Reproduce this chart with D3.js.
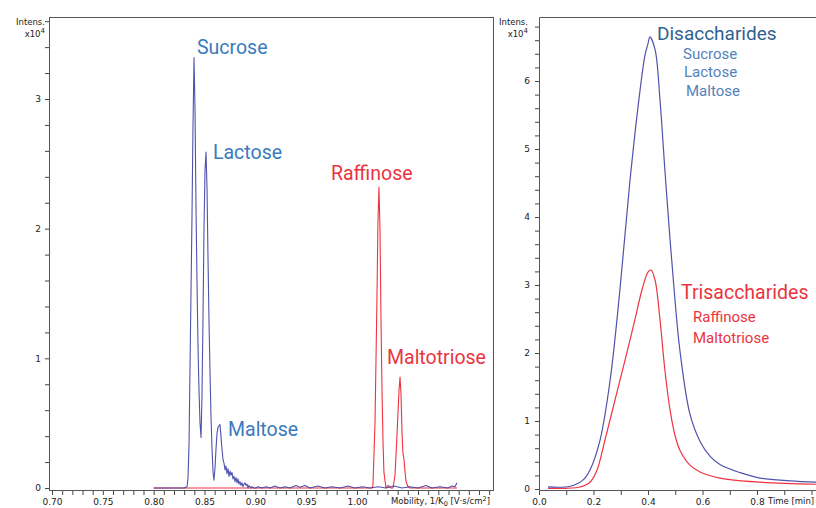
<!DOCTYPE html>
<html><head><meta charset="utf-8">
<script src="https://cdn.jsdelivr.net/npm/d3@7"></script>
<style>body{margin:0;background:#fff}svg{display:block}</style>
</head><body>
<svg id="c" width="816" height="508"></svg>
<script>
// ---- Left panel: mobilogram (mobility 1/K0, intensity x10^4)
const blueMobility = [0.800,0.830,0.8328,0.8338,0.8348,0.8357,0.8367,0.8377,0.8387,0.8397,0.8407,0.8416,0.8426,0.8436,0.8446,0.8456,0.8466,0.8475,0.8485,0.8495,0.8505,0.8515,0.8525,0.8534,0.8544,0.8554,0.8564,0.8574,0.8584,0.8593,0.8603,0.8613,0.8623,0.8633,0.8643,0.8652,0.8662,0.8672,0.8682,0.8692,0.8702,0.8711,0.8721,0.8731,0.8741,0.8751,0.8760,0.8770,0.8780,0.8790,0.8800,0.8810,0.8820,0.8829,0.8839,0.8849,0.8859,0.8869,0.8878,0.8888,0.8898,0.8908,0.8918,0.8928,0.8938,0.8947,0.8957,0.8967,0.8987,0.9006,0.9026,0.9065,0.9105,0.9144,0.9193,0.9243,0.9292,0.9341,0.9400,0.9439,0.9488,0.9538,0.9616,0.9685,0.9754,0.9833,0.9911,0.9980,1.0049,1.0128,1.0207,1.0285,1.0364,1.0443,1.0521,1.0600,1.0678,1.0737,1.0816,1.0895,1.0934,1.0964,1.0983];
const blueIntensity = [0,0,0.01,0.08,0.35,0.9,1.5,2.1,2.8,3.32,2.9,2.2,1.6,1.1,0.75,0.5,0.39,0.7,1.3,2.0,2.45,2.59,2.3,1.8,1.3,0.9,0.55,0.3,0.12,0.06,0.15,0.3,0.42,0.47,0.48,0.49,0.4,0.3,0.22,0.19,0.14,0.17,0.11,0.15,0.09,0.13,0.1,0.12,0.07,0.09,0.05,0.08,0.04,0.07,0.03,0.05,0.02,0.04,0.01,0.03,0.04,0.02,0.03,0.0,0.02,0.01,0.0,0.01,0.0,0.0,0.01,0.0,0.01,0.0,0.015,0.0,0.01,0.0,0.02,0.005,0.02,0.0,0.015,0.0,0.01,0.0,0.015,0.0,0.01,0.0,0.01,0.0,0.015,0.0,0.01,0.0,0.02,0.0,0.01,0.0,0.015,0.01,0.04];
const redMobility = [0.800,1.0147,1.0157,1.0177,1.0197,1.0206,1.0216,1.0226,1.0236,1.0246,1.0256,1.0265,1.0285,1.0305,1.0334,1.0354,1.0374,1.0393,1.0413,1.0423,1.0433,1.0443,1.0452,1.0462,1.0472,1.0482,1.0502,1.0521,1.0983];
const redIntensity = [0,0,0.02,0.5,1.5,2.05,2.32,2.0,1.3,0.75,0.35,0.12,0.0,0.02,0.0,0.0,0.1,0.4,0.75,0.856,0.72,0.42,0.27,0.22,0.13,0.05,0.01,0.0,0.0];
const leftLabels = ["Sucrose","Lactose","Maltose","Raffinose","Maltotriose"];

// ---- Right panel: chromatogram (time min, intensity x10^4)
const blueTime = [0.033,0.114,0.161,0.187,0.224,0.261,0.297,0.334,0.371,0.389,0.400,0.407,0.426,0.444,0.462,0.481,0.499,0.517,0.554,0.591,0.628,0.664,0.738,0.811,0.921,1.017];
const blueTic = [0.03,0.04,0.13,0.28,0.72,1.6,2.93,4.54,5.87,6.38,6.55,6.65,6.46,5.72,4.69,3.66,2.78,2.04,1.10,0.70,0.48,0.36,0.24,0.16,0.12,0.1];
const redTime = [0.033,0.15,0.187,0.213,0.242,0.279,0.316,0.352,0.378,0.400,0.411,0.426,0.444,0.462,0.481,0.499,0.517,0.554,0.591,0.664,0.811,1.017];
const redTic = [0.01,0.03,0.1,0.28,0.72,1.31,1.9,2.49,2.93,3.19,3.22,3.07,2.49,1.75,1.16,0.79,0.57,0.35,0.25,0.16,0.1,0.07];
const disaccharides = ["Sucrose","Lactose","Maltose"];
const trisaccharides = ["Raffinose","Maltotriose"];

const leftXLabels = [0.70,0.75,0.80,0.85,0.90,0.95,1.00];
const leftYLabels = [0,1,2,3];
const rightXLabels = [0.0,0.2,0.4,0.6,0.8];
const rightYLabels = [0,1,2,3,4,5,6];

const BLUE = "#3d3fa3", RED = "#ee3440";
const svg = d3.select("#c");
const tickFont = "DejaVu Sans, Verdana, sans-serif";
const lblFont = "Roboto, 'Noto Sans', sans-serif";

// scales
const xL = d3.scaleLinear().domain([0.70,1.00]).range([52,357]);
const yL = d3.scaleLinear().domain([0,3]).range([488,99]);
const xR = d3.scaleLinear().domain([0,0.8]).range([539,757]);
const yR = d3.scaleLinear().domain([0,6]).range([489,81]);

const near = (v, arr) => arr.some(a => Math.abs(a - v) < 1e-6);
const rng = (a,b,s) => d3.range(Math.round((b-a)/s)+1).map(i => +(a+i*s).toFixed(4));

function styleAxis(g){
  g.select(".domain").remove();
  g.selectAll("line").attr("stroke","#444").attr("stroke-width",1);
  g.selectAll("text").attr("font-family",tickFont).attr("font-size",9).attr("fill","#222");
}

// frames
svg.append("rect").attr("x",49.5).attr("y",17.5).attr("width",444).attr("height",473)
  .attr("fill","none").attr("stroke","#555").attr("stroke-width",1);
svg.append("path").attr("d","M816,17.5H539.5V490.5H816").attr("fill","none").attr("stroke","#555");

// left axes
const lxt = rng(0.70,1.13,0.01);
svg.append("g").attr("transform","translate(0,491)")
  .call(d3.axisBottom(xL).tickValues(lxt).tickSize(4).tickPadding(4)
    .tickFormat(d => near(d,leftXLabels) ? d3.format(".2f")(d) : ""))
  .call(styleAxis);
svg.append("g").attr("transform","translate(49,0)")
  .call(d3.axisLeft(yL).tickValues(rng(0,3.6,0.2)).tickSize(4).tickPadding(4)
    .tickFormat(d => near(d,leftYLabels) ? d3.format("d")(d) : ""))
  .call(styleAxis);
// right axes
svg.append("g").attr("transform","translate(0,491)")
  .call(d3.axisBottom(xR).tickValues(rng(0,1.0,0.1)).tickSize(4).tickPadding(4)
    .tickFormat(d => near(d,rightXLabels) ? d3.format(".1f")(d) : ""))
  .call(styleAxis);
svg.append("g").attr("transform","translate(539,0)")
  .call(d3.axisLeft(yR).tickValues(rng(0,6.8,0.2)).tickSize(4).tickPadding(5)
    .tickFormat(d => near(d,rightYLabels) ? d3.format("d")(d) : ""))
  .call(styleAxis);

// axis titles
function small(x,y,txt,anchor){
  return svg.append("text").attr("x",x).attr("y",y).attr("text-anchor",anchor||"start")
    .attr("font-family",tickFont).attr("font-size",8.5).attr("fill","#222").text(txt);
}
small(45,25,"Intens.","end");
const t1 = small(45,37,"x10","end"); t1.append("tspan").attr("dy",-4).attr("font-size",7).text("4");
small(528,25,"Intens.","end");
const t2 = small(528,37,"x10","end"); t2.append("tspan").attr("dy",-4).attr("font-size",7).text("4");
const mt = small(391,504,"Mobility, 1/K");
mt.append("tspan").attr("dy",2).attr("font-size",6.5).text("0");
mt.append("tspan").attr("dy",-2).text(" [V\u00b7s/cm");
mt.append("tspan").attr("dy",-3).attr("font-size",6.5).text("2");
mt.append("tspan").attr("dy",3).text("]");
small(768,504,"Time [min]");

// lines
const lineL = d3.line().x(d=>xL(d[0])).y(d=>yL(d[1]));
const lineR = d3.line().x(d=>xR(d[0])).y(d=>yR(d[1])).curve(d3.curveCatmullRom.alpha(0.5));
const defs = svg.append("defs");
defs.append("clipPath").attr("id","clipR").append("rect").attr("x",540).attr("y",18).attr("width",276).attr("height",472);

svg.append("path").datum(d3.zip(redMobility,redIntensity)).attr("d",lineL)
  .attr("fill","none").attr("stroke",RED).attr("stroke-width",1.1).attr("stroke-linejoin","round");
svg.append("path").datum(d3.zip(blueMobility,blueIntensity)).attr("d",lineL)
  .attr("fill","none").attr("stroke",BLUE).attr("stroke-width",1.1).attr("stroke-opacity",0.9).attr("stroke-linejoin","round");

const gR = svg.append("g").attr("clip-path","url(#clipR)");
gR.append("path").datum(d3.zip(redTime,redTic)).attr("d",lineR)
  .attr("fill","none").attr("stroke",RED).attr("stroke-width",1.2);
gR.append("path").datum(d3.zip(blueTime,blueTic)).attr("d",lineR)
  .attr("fill","none").attr("stroke",BLUE).attr("stroke-width",1.2).attr("stroke-opacity",0.9);

// peak labels (left)
function lbl(x,y,txt,color,size){
  svg.append("text").attr("x",x).attr("y",y).attr("font-family",lblFont)
    .attr("font-size",size).attr("fill",color).text(txt);
}
const LB = "#3a7abd", LR = "#ea3440";
lbl(197,54,leftLabels[0],LB,19.5);
lbl(213,159,leftLabels[1],LB,19.5);
lbl(228,436,leftLabels[2],LB,19.5);
lbl(331,180,leftLabels[3],LR,19.5);
lbl(387,364,leftLabels[4],LR,19.5);

// group labels (right)
lbl(657,40,"Disaccharides","#2f6190",19);
lbl(683,59,disaccharides[0],"#5482ba",15);
lbl(684,77,disaccharides[1],"#5482ba",15);
lbl(686,96,disaccharides[2],"#5482ba",15);
lbl(681,299,"Trisaccharides",LR,19.5);
lbl(693,322,trisaccharides[0],LR,15);
lbl(693,343,trisaccharides[1],LR,15);
</script>
</body></html>
